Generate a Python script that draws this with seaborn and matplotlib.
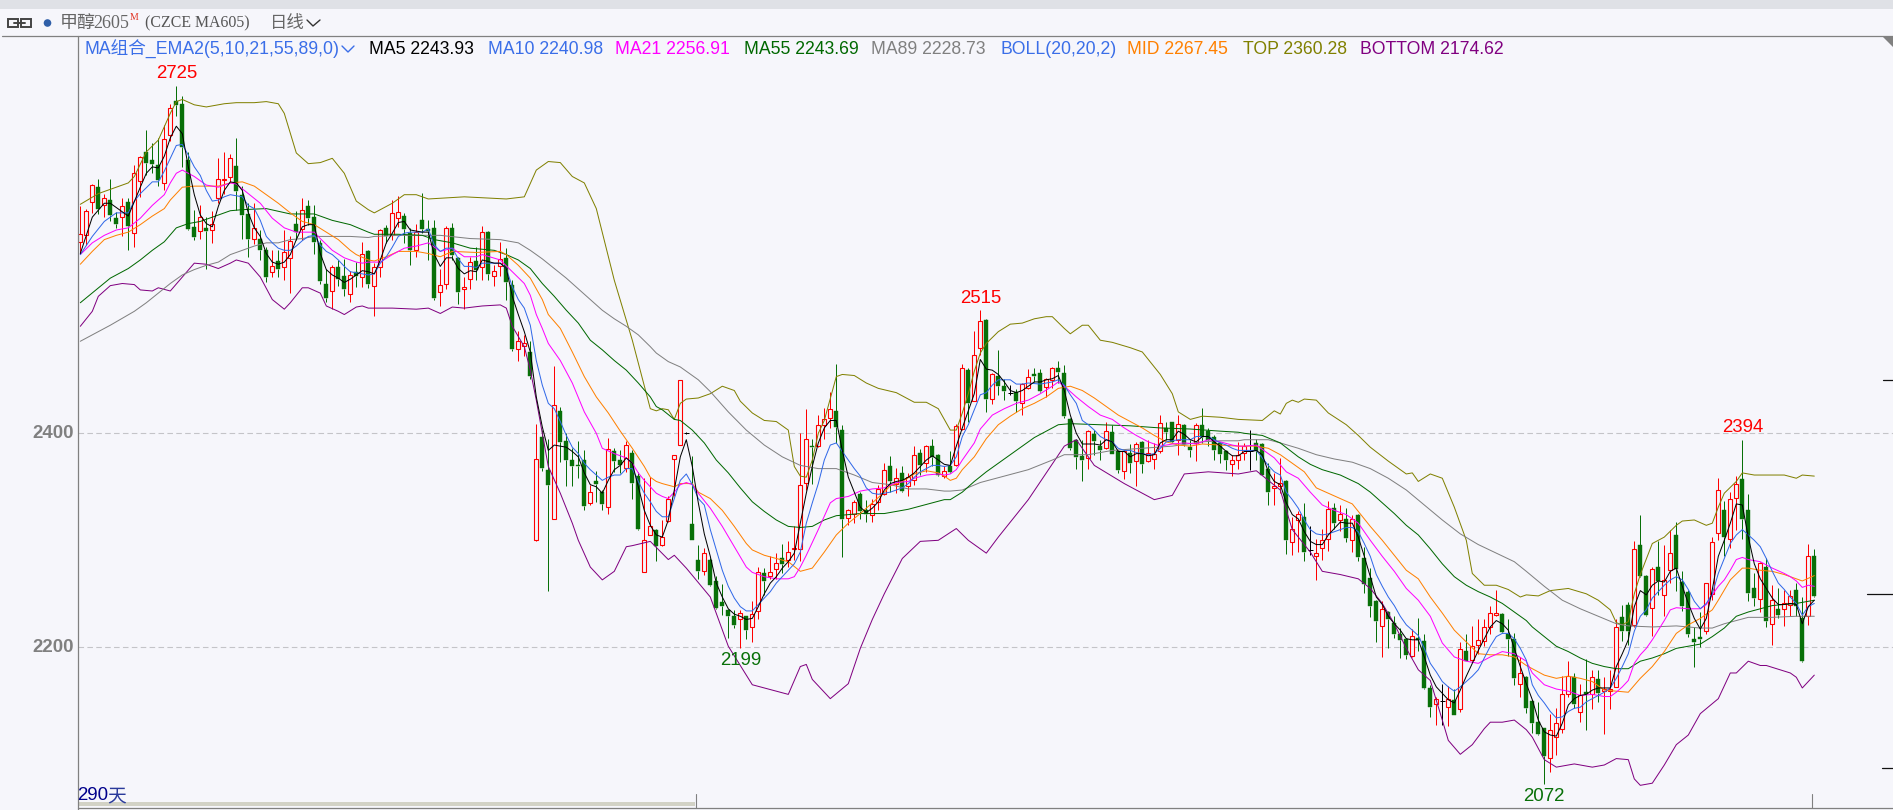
import matplotlib
matplotlib.use("Agg")
import matplotlib.pyplot as plt
from matplotlib.patches import Rectangle, Polygon, Circle
import seaborn as sns

opens = [
2579,2585,2616,2630,2613,2618,2601,2602,2616,2587,
2636,2663,2655,2651,2634,2679,2711,2708,2655,2593,
2589,2592,2590,2620,2637,2640,2650,2623,2605,2582,
2582,2571,2551,2561,2555,2564,2596,2591,2612,2602,
2578,2540,2533,2555,2547,2530,2551,2546,2570,2538,
2555,2592,2585,2601,2603,2587,2571,2599,2591,2592,
2532,2540,2592,2564,2535,2544,2561,2555,2588,2547,
2556,2564,2539,2479,2482,2476,2300,2397,2366,2320,
2421,2393,2375,2370,2375,2335,2355,2345,2331,2383,
2375,2368,2382,2360,2270,2305,2310,2296,2318,2376,
2389,2400,2315,2282,2271,2282,2262,2242,2235,2229,
2226,2229,2219,2234,2269,2267,2273,2283,2282,2292,
2292,2354,2388,2388,2408,2414,2421,2403,2321,2325,
2343,2328,2324,2336,2343,2369,2353,2363,2351,2356,
2382,2372,2388,2380,2360,2369,2370,2404,2459,2430,
2480,2506,2432,2454,2444,2438,2439,2428,2442,2455,
2456,2443,2450,2461,2456,2413,2394,2379,2377,2399,
2388,2386,2401,2383,2365,2382,2374,2392,2374,2376,
2383,2405,2411,2394,2408,2387,2391,2408,2402,2397,
2391,2383,2371,2375,2382,2383,2391,2390,2367,2349,
2351,2355,2298,2319,2322,2291,2285,2293,2301,2330,
2319,2320,2300,2324,2283,2265,2243,2220,2233,2223,
2212,2208,2192,2209,2206,2162,2147,2150,2144,2151,
2142,2197,2188,2202,2206,2219,2230,2231,2212,2208,
2166,2172,2150,2130,2125,2097,2116,2124,2156,2172,
2140,2158,2156,2170,2159,2159,2163,2228,2240,2221,
2296,2267,2237,2275,2249,2272,2305,2261,2252,2208,
2210,2215,2250,2307,2328,2301,2340,2357,2328,2255,
2245,2275,2222,2236,2236,2240,2254,2227,2229,2285]

highs = [
2612,2610,2633,2638,2624,2638,2607,2620,2620,2651,
2659,2683,2671,2676,2688,2708,2725,2715,2663,2609,
2613,2602,2608,2657,2663,2661,2676,2631,2615,2615,
2590,2574,2571,2571,2590,2584,2608,2620,2618,2613,
2581,2554,2557,2562,2563,2552,2560,2579,2571,2559,
2591,2595,2618,2622,2606,2592,2596,2625,2599,2599,
2554,2594,2597,2565,2546,2565,2574,2594,2589,2557,
2579,2573,2543,2496,2492,2486,2409,2403,2395,2463,
2425,2400,2386,2393,2384,2352,2365,2347,2396,2386,
2384,2393,2384,2364,2358,2359,2311,2319,2341,2380,
2450,2401,2379,2296,2293,2283,2267,2259,2236,2235,
2235,2229,2243,2275,2274,2285,2288,2297,2299,2313,
2400,2423,2395,2417,2424,2439,2465,2408,2329,2338,
2345,2338,2339,2352,2372,2379,2368,2369,2363,2388,
2385,2389,2395,2381,2369,2383,2409,2465,2461,2496,
2515,2507,2456,2478,2451,2445,2441,2447,2460,2461,
2460,2452,2462,2468,2464,2414,2395,2394,2403,2403,
2394,2411,2408,2384,2384,2390,2392,2393,2394,2391,
2417,2411,2411,2417,2409,2394,2410,2424,2405,2398,
2392,2384,2380,2392,2391,2403,2395,2391,2372,2363,
2377,2356,2322,2327,2335,2313,2301,2311,2337,2335,
2333,2330,2324,2325,2294,2274,2244,2243,2234,2229,
2218,2209,2217,2227,2212,2165,2154,2166,2164,2161,
2205,2212,2220,2226,2226,2239,2254,2232,2226,2213,
2191,2173,2151,2149,2125,2138,2143,2173,2187,2176,
2166,2189,2179,2179,2172,2179,2226,2240,2242,2299,
2324,2268,2275,2299,2296,2310,2317,2271,2254,2219,
2233,2260,2303,2358,2337,2345,2360,2394,2343,2269,
2280,2283,2258,2255,2254,2254,2260,2247,2297,2292]

lows = [
2568,2576,2606,2605,2602,2598,2592,2584,2571,2574,
2621,2641,2643,2631,2627,2673,2697,2649,2590,2581,
2582,2554,2578,2615,2624,2635,2609,2582,2565,2577,
2562,2541,2546,2546,2543,2531,2581,2581,2595,2568,
2540,2523,2516,2538,2528,2523,2537,2537,2536,2510,
2546,2578,2581,2593,2578,2557,2565,2587,2562,2525,
2519,2535,2562,2521,2516,2535,2543,2543,2543,2538,
2547,2525,2477,2468,2472,2451,2299,2365,2253,2320,
2373,2351,2351,2358,2328,2333,2336,2328,2325,2364,
2363,2364,2339,2310,2270,2305,2281,2295,2317,2341,
2389,2399,2300,2264,2268,2257,2236,2230,2209,2218,
2199,2208,2205,2226,2249,2264,2264,2269,2275,2282,
2281,2347,2353,2387,2395,2405,2391,2284,2314,2316,
2320,2317,2317,2328,2342,2345,2344,2345,2341,2352,
2361,2364,2369,2360,2358,2363,2369,2403,2411,2430,
2473,2420,2427,2436,2431,2436,2420,2417,2441,2448,
2439,2434,2442,2447,2414,2384,2367,2355,2367,2380,
2375,2385,2381,2363,2357,2363,2351,2363,2373,2367,
2382,2394,2391,2380,2388,2378,2374,2391,2388,2375,
2372,2366,2360,2367,2375,2366,2375,2361,2333,2333,
2344,2287,2286,2289,2281,2286,2263,2282,2290,2311,
2309,2298,2289,2281,2251,2228,2205,2191,2199,2209,
2190,2189,2191,2197,2161,2135,2127,2127,2126,2137,
2140,2187,2187,2194,2201,2212,2229,2213,2192,2165,
2154,2139,2120,2118,2072,2083,2099,2120,2154,2143,
2130,2123,2142,2149,2119,2142,2163,2206,2202,2219,
2266,2229,2211,2249,2229,2260,2253,2234,2210,2182,
2200,2212,2244,2300,2285,2293,2310,2301,2243,2239,
2233,2219,2202,2227,2220,2229,2229,2186,2221,2247]

closes = [
2586,2608,2632,2610,2620,2604,2596,2612,2594,2643,
2658,2653,2652,2637,2675,2704,2707,2668,2591,2583,
2602,2589,2596,2638,2638,2657,2626,2604,2582,2592,
2571,2546,2556,2554,2569,2580,2588,2609,2601,2579,
2542,2526,2555,2544,2535,2548,2547,2568,2540,2555,
2590,2584,2606,2607,2591,2571,2588,2591,2589,2526,
2539,2592,2567,2532,2537,2560,2553,2588,2549,2552,
2563,2541,2479,2486,2484,2454,2376,2368,2352,2426,
2392,2375,2369,2369,2332,2345,2353,2334,2385,2374,
2370,2389,2354,2311,2300,2313,2295,2303,2339,2380,
2450,2400,2300,2271,2288,2258,2237,2239,2229,2221,
2232,2216,2231,2270,2262,2270,2279,2278,2289,2293,
2352,2395,2387,2408,2413,2423,2406,2320,2328,2336,
2327,2325,2334,2348,2366,2355,2358,2346,2359,2380,
2370,2388,2378,2361,2365,2364,2407,2461,2428,2473,
2505,2432,2455,2444,2440,2438,2430,2446,2453,2454,
2440,2451,2461,2457,2416,2386,2378,2375,2402,2393,
2384,2402,2381,2366,2383,2372,2390,2371,2382,2381,
2410,2401,2392,2409,2390,2384,2408,2397,2394,2384,
2381,2375,2375,2380,2388,2383,2383,2361,2345,2351,
2354,2300,2311,2325,2289,2291,2288,2300,2329,2316,
2325,2302,2320,2284,2259,2239,2225,2236,2226,2212,
2207,2193,2211,2207,2162,2144,2152,2150,2152,2137,
2198,2187,2201,2207,2219,2232,2232,2214,2208,2171,
2176,2143,2129,2119,2098,2123,2129,2156,2173,2147,
2155,2156,2172,2157,2161,2161,2219,2215,2215,2292,
2267,2230,2273,2262,2263,2288,2273,2239,2212,2205,
2208,2260,2298,2347,2303,2339,2353,2320,2251,2246,
2279,2225,2244,2230,2241,2248,2239,2187,2285,2248]

ma5_idx = [0,2,4,5,7,8,10,11,12,13,14,15,16,17,18,19,20,21,22,23,24,25,26,27,28,29,30,31,32,33,34,35,36,37,38,39,40,41,42,43,44,45,46,47,
48,49,50,51,52,53,54,55,57,58,59,60,61,62,63,64,65,66,67,69,70,71,72,73,74,75,76,77,78,79,81,82,83,84,85,86,87,88,89,90,91,92,93,94,95,96,
97,98,99,100,101,102,103,104,105,106,107,108,109,110,111,112,113,114,115,116,117,118,119,120,121,122,123,124,125,126,127,128,129,130,131,132,133,134,135,136,137,138,139,140,141,142,143,144,
145,146,147,149,150,151,152,153,154,155,156,157,158,159,160,161,162,163,164,165,166,167,168,169,170,171,172,173,174,175,176,177,178,179,180,181,182,183,184,185,186,187,188,189,190,191,192,193,
194,195,196,197,198,199,200,201,202,203,204,205,206,207,208,209,210,211,212,213,214,215,216,217,218,219,220,221,222,223,224,225,226,227,228,229,230,231,232,233,234,235,236,237,238,239,240,241,
242,243,244,245,246,247,248,249,250,251,252,253,254,255,256,257,258,259,260,261,262,263,264,265,266,267,268,269,270,271,272,273,274,275,276,277,278,279,280,281,282,283,284,285,286,287,288,289]
ma5_val = [2568,2602,2615,2615,2607,2603,2630,2643,2649,2648,2659,2676,2687,2680,2649,2623,2604,2596,2593,2612,2627,2635,2634,2627,2606,2592,2584,2568,2560,2558,2560,2567,2581,2593,2595,2595,2568,2553,2548,2545,2541,2544,2548,2552,
2551,2549,2562,2578,2587,2597,2598,2590,2588,2588,2567,2556,2564,2564,2554,2549,2552,2551,2562,2559,2559,2554,2528,2511,2495,2476,2434,2406,2384,2389,2387,2383,2378,2363,2352,2350,2344,2356,2366,2370,2377,2372,2350,2328,2314,2305,
2303,2319,2347,2378,2394,2369,2335,2306,2285,2260,2247,2236,2231,2229,2226,2227,2238,2250,2260,2266,2274,2280,2288,2316,2344,2369,2391,2405,2412,2412,2384,2359,2345,2331,2326,2330,2336,2347,2353,2355,2356,2359,2363,2369,2375,2379,2375,2371,
2370,2388,2405,2437,2469,2460,2459,2455,2448,2440,2438,2440,2444,2448,2448,2450,2451,2454,2440,2417,2400,2390,2390,2390,2389,2394,2392,2383,2383,2378,2381,2381,2379,2380,2391,2394,2394,2402,2399,2394,2392,2397,2397,2392,2388,2383,2379,2379,
2383,2383,2384,2380,2364,2355,2352,2335,2324,2320,2308,2299,2296,2296,2305,2311,2317,2316,2316,2303,2285,2266,2247,2240,2229,2222,2216,2208,2207,2207,2191,2174,2163,2157,2151,2148,2160,2173,2185,2197,2208,2219,2225,2222,2216,2199,2182,2166,
2151,2132,2121,2118,2117,2129,2146,2152,2155,2156,2160,2162,2162,2162,2182,2194,2207,2238,2253,2249,2258,2262,2261,2271,2274,2257,2241,2227,2217,2227,2254,2285,2300,2316,2334,2333,2303,2278,2264,2255,2246,2240,2240,2241,2240,2222,2238,2244]

ma10_idx = [0,2,4,6,8,9,10,12,13,14,15,16,17,18,19,20,21,22,23,24,25,26,27,28,29,30,31,32,33,34,35,36,37,38,39,40,41,42,43,44,45,46,47,
48,49,50,51,52,53,54,55,57,58,59,60,61,62,63,64,65,66,67,70,71,72,73,74,75,76,77,78,79,80,81,82,83,84,85,86,87,88,89,90,91,92,93,94,95,96,
97,98,99,100,101,102,103,104,105,106,107,108,109,110,111,112,113,114,115,116,117,118,119,120,121,122,123,124,125,126,127,128,129,130,131,132,133,134,135,136,137,138,139,140,141,142,143,144,
145,146,147,148,149,150,151,152,153,154,155,156,157,158,160,162,163,164,165,166,167,168,169,170,171,172,173,174,175,176,177,178,179,180,181,183,185,186,187,188,189,190,191,192,193,
194,196,197,198,199,200,201,202,203,204,205,206,207,208,209,210,211,212,213,214,215,216,217,218,219,220,221,222,223,224,225,226,227,228,229,230,231,232,233,234,235,236,237,238,239,240,241,
242,243,244,245,246,247,248,249,250,251,252,253,254,255,256,257,258,259,260,261,262,263,264,265,266,267,268,269,270,271,272,273,274,275,276,277,278,279,280,281,282,283,284,285,286,287,288,289]
ma10_val = [2567,2584,2598,2606,2606,2617,2624,2635,2635,2645,2657,2669,2670,2660,2649,2641,2627,2617,2618,2621,2623,2622,2621,2613,2610,2599,2584,2578,2573,2571,2571,2575,2580,2584,2585,2576,2570,2567,2562,2556,2551,2550,2549,
2548,2549,2559,2565,2574,2584,2587,2588,2588,2591,2576,2570,2573,2573,2563,2556,2556,2555,2559,2559,2554,2537,2525,2517,2501,2468,2445,2428,2423,2411,2398,2387,2381,2372,2366,2361,2356,2359,2361,2361,2367,2367,2355,2344,2336,2327,
2322,2322,2339,2356,2362,2352,2339,2333,2310,2291,2272,2257,2246,2238,2234,2234,2240,2246,2252,2260,2266,2272,2278,2289,2316,2335,2353,2375,2389,2391,2383,2375,2367,2360,2349,2344,2343,2344,2345,2347,2349,2353,2359,2364,2367,2370,2370,2369,
2370,2378,2397,2408,2422,2436,2438,2445,2450,2450,2450,2446,2446,2447,2446,2448,2450,2445,2436,2428,2412,2408,2403,2397,2394,2392,2386,2384,2384,2382,2381,2380,2381,2386,2392,2394,2394,2397,2397,2397,2394,2391,2389,2386,2384,
2384,2384,2377,2370,2364,2361,2345,2338,2330,2319,2310,2306,2305,2306,2308,2310,2312,2312,2308,2297,2285,2268,2257,2247,2239,2229,2221,2216,2211,2199,2185,2177,2168,2163,2159,2163,2168,2173,2179,2190,2201,2210,2213,2213,2208,2199,2188,
2165,2155,2148,2140,2134,2135,2140,2143,2144,2149,2152,2155,2158,2162,2171,2182,2194,2215,2229,2235,2246,2252,2258,2263,2266,2263,2254,2243,2236,2241,2250,2269,2283,2297,2305,2310,2305,2300,2294,2283,2271,2260,2254,2247,2241,2230,2238,2241]

ma21_idx = [0,2,4,6,8,10,12,14,15,16,17,19,21,23,25,26,28,30,32,34,36,38,39,40,42,44,46,47,
48,50,52,54,56,58,60,62,64,66,67,70,72,74,75,76,77,78,80,82,84,86,87,89,91,92,93,94,96,
97,98,99,100,101,102,103,105,107,109,111,112,114,116,118,119,120,121,123,125,126,128,130,132,134,136,138,139,141,143,144,
145,146,147,149,150,152,154,156,158,160,162,163,164,166,168,170,172,174,176,178,180,182,184,186,188,190,192,193,
194,196,197,199,201,203,205,207,209,211,213,215,217,219,221,223,225,227,229,231,233,235,237,239,241,
242,244,246,248,250,252,254,255,256,257,258,259,260,261,262,263,264,265,266,268,270,271,272,273,274,275,276,277,278,280,282,284,285,286,287,288,289]
ma21_val = [2567,2578,2585,2590,2592,2601,2613,2623,2634,2643,2646,2640,2632,2630,2634,2633,2624,2615,2601,2592,2588,2588,2588,2582,2571,2564,2560,2559,
2560,2560,2567,2573,2575,2578,2570,2573,2565,2565,2567,2562,2551,2540,2529,2511,2498,2484,2468,2447,2420,2400,2386,2381,2377,2372,2363,2356,2344,
2341,2339,2345,2352,2354,2352,2344,2330,2313,2294,2275,2270,2266,2264,2264,2266,2275,2286,2310,2335,2339,2341,2346,2348,2349,2354,2355,2358,2361,2362,2361,
2362,2366,2375,2391,2404,2417,2423,2428,2431,2437,2444,2448,2444,2434,2425,2417,2413,2405,2398,2392,2388,2390,2391,2390,2394,2392,2389,2388,
2388,2389,2385,2377,2364,2358,2345,2333,2328,2324,2316,2300,2285,2271,2255,2244,2229,2204,2191,2187,2185,2191,2196,2194,2187,
2176,2165,2161,2159,2155,2156,2154,2154,2158,2163,2169,2185,2193,2199,2207,2216,2225,2235,2237,2236,2236,2240,2249,2257,2263,2272,2282,2284,2282,2280,2274,2269,2266,2262,2256,2258,2257]

ma55_idx = [0,5,8,10,12,14,16,18,20,23,25,27,31,35,39,42,45,48,
49,53,57,59,62,65,69,71,73,75,77,79,81,83,85,87,89,91,93,95,96,
97,99,100,102,104,106,108,110,112,114,116,118,120,122,124,126,130,134,138,142,144,
145,147,149,151,153,155,157,159,161,163,165,170,175,180,185,190,193,
194,197,200,203,205,207,210,213,215,217,219,221,223,225,227,229,231,233,235,237,239,241,
242,244,246,248,250,252,254,256,258,260,262,264,266,268,270,272,274,276,278,280,282,284,286,288,289]
ma55_val = [2522,2545,2554,2562,2571,2579,2592,2596,2598,2604,2608,2609,2610,2605,2605,2599,2595,2588,
2586,2586,2585,2581,2578,2573,2571,2567,2562,2554,2540,2528,2515,2503,2487,2478,2468,2459,2447,2434,2425,
2422,2413,2412,2403,2391,2375,2363,2349,2336,2327,2319,2313,2312,2313,2319,2323,2325,2325,2329,2335,2338,
2338,2345,2355,2364,2372,2380,2388,2396,2402,2408,2409,2408,2407,2405,2404,2402,2401,
2400,2398,2391,2378,2371,2366,2361,2353,2345,2335,2325,2314,2305,2292,2278,2266,2258,2252,2247,2241,2233,2225,
2219,2210,2201,2196,2190,2185,2182,2180,2180,2187,2190,2194,2199,2201,2203,2210,2218,2229,2233,2236,2239,2240,2241,2243,2244]

ma89_idx = [0,5,9,11,13,15,17,19,21,23,25,27,29,31,33,35,37,39,42,45,48,
49,53,60,65,70,73,75,77,79,81,83,85,87,89,91,93,95,96,98,100,103,105,108,111,114,117,120,123,126,129,132,135,138,141,144,
145,147,150,154,158,162,164,168,172,177,182,187,190,193,
194,198,200,203,206,209,212,215,218,221,224,227,230,233,236,239,241,
244,247,250,253,256,258,262,266,270,272,274,276,278,282,286,289]
ma89_val = [2486,2501,2514,2522,2531,2540,2548,2553,2557,2560,2567,2571,2575,2578,2578,2581,2582,2584,2584,2584,2583,
2584,2585,2585,2582,2581,2578,2571,2563,2554,2545,2535,2525,2515,2507,2500,2492,2481,2475,2467,2462,2450,2439,2420,2403,2389,2378,2370,2367,2367,2361,2354,2352,2348,2348,2346,
2346,2347,2354,2360,2366,2375,2380,2380,2384,2386,2388,2392,2393,2393,
2394,2394,2391,2386,2380,2376,2373,2367,2358,2347,2333,2319,2306,2296,2288,2280,2271,
2257,2244,2236,2229,2222,2220,2219,2220,2218,2218,2222,2225,2228,2228,2229,2229]

mid_idx = [0,2,4,6,8,10,12,14,15,17,19,23,25,27,29,31,33,35,37,39,41,43,45,46,48,
49,51,53,56,58,60,62,66,70,71,73,75,77,78,80,82,84,86,88,90,92,94,95,96,
97,99,100,102,103,105,107,109,111,112,114,116,118,120,122,124,126,128,130,132,134,135,137,139,141,143,144,
145,146,147,149,151,153,155,157,159,161,163,165,167,169,171,173,175,177,179,181,183,185,187,190,193,
194,196,198,200,202,204,206,208,210,212,213,215,217,219,221,223,225,227,229,231,233,235,237,239,241,
242,244,246,248,250,252,254,256,258,260,262,264,266,268,270,272,273,275,277,278,280,282,284,286,287,289]
mid_val = [2558,2570,2581,2585,2588,2595,2603,2610,2618,2630,2631,2631,2634,2635,2631,2623,2615,2606,2598,2595,2588,2581,2571,2567,2562,
2561,2565,2570,2570,2568,2565,2570,2569,2570,2567,2557,2545,2525,2511,2498,2476,2453,2434,2419,2402,2386,2369,2359,2355,
2353,2350,2353,2353,2345,2339,2328,2313,2297,2291,2286,2283,2280,2271,2274,2289,2305,2316,2325,2335,2345,2351,2355,2362,2365,2363,2360,
2356,2358,2366,2378,2395,2408,2416,2423,2428,2434,2442,2444,2440,2433,2425,2417,2411,2405,2398,2392,2389,2388,2390,2389,2388,
2388,2388,2386,2380,2372,2364,2349,2344,2339,2334,2327,2313,2300,2286,2272,2264,2247,2232,2216,2205,2194,2193,2193,2191,2183,
2180,2174,2171,2173,2171,2168,2160,2159,2158,2171,2182,2196,2213,2221,2227,2235,2244,2263,2274,2274,2272,2271,2268,2264,2262,2267]

top_idx = [0,3,6,8,9,11,13,15,16,17,19,21,24,26,29,31,33,34,36,38,40,42,44,46,48,
49,52,54,56,58,64,71,74,76,78,80,82,84,86,89,92,95,96,
97,98,99,100,101,103,105,107,109,110,112,114,116,118,119,120,121,122,123,124,126,127,129,131,133,136,139,141,143,145,
146,147,148,149,150,151,153,155,157,159,161,162,164,165,167,168,170,172,175,177,180,182,183,185,187,190,193,
197,199,200,201,202,203,204,206,208,211,213,215,218,219,221,222,223,225,227,229,231,232,234,236,238,240,
241,243,245,248,251,253,255,256,257,258,259,260,262,264,266,267,269,271,272,273,274,276,277,279,284,286,287,289]
top_val = [2614,2624,2630,2634,2640,2663,2674,2699,2710,2712,2707,2705,2708,2709,2709,2710,2708,2699,2662,2652,2653,2657,2643,2617,2609,
2606,2615,2623,2623,2619,2621,2619,2621,2646,2654,2653,2640,2634,2610,2543,2487,2423,2421,
2423,2422,2413,2428,2432,2433,2437,2444,2440,2430,2419,2412,2411,2403,2369,2360,2359,2375,2400,2412,2453,2455,2454,2447,2442,2438,2429,2429,2423,2403,
2403,2419,2437,2458,2475,2484,2495,2502,2503,2507,2509,2509,2498,2493,2501,2501,2487,2485,2480,2476,2455,2437,2420,2413,2416,2415,2413,
2412,2421,2418,2428,2431,2429,2432,2431,2419,2408,2398,2387,2374,2370,2362,2363,2355,2362,2358,2331,2300,2269,2258,2258,2254,2247,
2249,2248,2253,2255,2250,2244,2235,2223,2221,2224,2250,2268,2297,2303,2314,2318,2319,2314,2316,2331,2344,2355,2363,2361,2361,2358,2361,2360]

bottom_idx = [0,2,3,5,7,9,10,12,13,15,17,19,21,23,25,26,28,30,32,34,35,37,38,40,41,43,44,46,47,48,
50,52,56,58,60,62,64,67,70,71,72,74,75,76,77,78,80,82,83,85,87,89,91,92,95,98,99,101,105,108,112,118,120,121,122,125,128,130,132,134,137,140,143,146,148,151,153,158,164,166,169,174,179,182,184,188,193,196,
198,200,201,202,205,207,210,213,215,217,219,221,223,225,227,228,230,232,234,235,237,239,241,
242,244,246,249,252,254,256,258,259,260,262,264,266,268,270,273,275,276,278,280,281,285,286,287,289]
bottom_val = [2500,2514,2528,2538,2540,2539,2534,2533,2536,2533,2546,2559,2558,2554,2559,2562,2559,2546,2525,2516,2522,2536,2536,2531,2519,2514,2511,2518,2519,2517,
2517,2517,2516,2517,2512,2518,2517,2519,2520,2517,2500,2481,2459,2431,2400,2369,2344,2316,2300,2275,2263,2271,2294,2295,2299,2282,2286,2274,2247,2201,2165,2156,2182,2184,2170,2152,2166,2199,2226,2250,2283,2299,2300,2311,2300,2288,2303,2338,2388,2394,2370,2353,2338,2342,2362,2364,2362,2365,
2356,2347,2328,2310,2289,2271,2268,2264,2255,2241,2222,2199,2179,2169,2132,2113,2100,2109,2124,2130,2130,2132,2123,
2116,2095,2088,2091,2088,2090,2096,2095,2077,2071,2073,2090,2109,2118,2138,2152,2176,2176,2187,2183,2183,2176,2172,2162,2174]

grid_levels = [2400, 2200]
y_tick_labels = ["2400", "2200"]
right_ticks = [2450, 2250, 2087]
extreme_idx = [16, 150, 277, 110, 244]
extreme_val = [2725, 2515, 2394, 2199, 2072]

W, H = 1893, 810
BG = "#f6f6fb"
RED = "#ff0000"
GREEN = "#087008"

sns.set_theme(style="white", rc={"figure.facecolor": BG, "axes.facecolor": BG})
plt.rcParams["font.family"] = ["Liberation Sans", "Noto Sans CJK SC", "DejaVu Sans"]

fig = plt.figure(figsize=(W / 100, H / 100), dpi=100)

# pixel overlay for the window chrome
ui = fig.add_axes([0, 0, 1, 1], zorder=5)
ui.set_xlim(0, W)
ui.set_ylim(H, 0)
ui.axis("off")
ui.patch.set_alpha(0)

# price pane: one bar every 6 px, 107 px per 100 price units
left, right, top, bottom = 77.5, 1893.0, 36.5, 808.0
ax = fig.add_axes([left / W, 1 - bottom / H, (right - left) / W, (bottom - top) / H], zorder=1)
ax.set_xlim((left - 80.3) / 6.0, (right - 80.3) / 6.0)
ax.set_ylim(2400 - (bottom - 433.3) / 1.07, 2400 - (top - 433.3) / 1.07)
ax.set_xticks([])
ax.set_yticks([])
for s in ("top", "right", "bottom", "left"):
    ax.spines[s].set_visible(False)

for lv in grid_levels:
    ax.axhline(lv, color="#c4c4c8", lw=0.8, dashes=(5, 3), zorder=1)

PX = 0.72
for i, (o, h, l, c) in enumerate(zip(opens, highs, lows, closes)):
    col = RED if c > o else (GREEN if c < o else "black")
    lo, hi = min(o, c), max(o, c)
    ax.vlines(i, hi, h, color=col, lw=PX, zorder=2)
    ax.vlines(i, l, lo, color=col, lw=PX, zorder=2)
    if c == o:
        ax.hlines(o, i - 0.38, i + 0.38, color="black", lw=PX, zorder=3)
    elif c > o:
        ax.bar(i, hi - lo, bottom=lo, width=0.68, facecolor=BG, edgecolor=RED, linewidth=PX * 1.1, zorder=3)
    else:
        ax.bar(i, hi - lo, bottom=lo, width=0.72, facecolor=GREEN, edgecolor=GREEN, linewidth=0.3, zorder=3)

series = [
    (top_idx, top_val, "#808000"),
    (bottom_idx, bottom_val, "#800080"),
    (ma89_idx, ma89_val, "#808080"),
    (ma55_idx, ma55_val, "#006800"),
    (mid_idx, mid_val, "#ff8000"),
    (ma21_idx, ma21_val, "#ff00ff"),
    (ma10_idx, ma10_val, "#3068e8"),
    (ma5_idx, ma5_val, "#000000"),
]
for n, (xs, ys, col) in enumerate(series):
    sns.lineplot(x=xs, y=ys, ax=ax, color=col, linewidth=0.72, estimator=None,
                 sort=False, legend=False, zorder=4 + n * 0.1)

for n, (i, v) in enumerate(zip(extreme_idx, extreme_val)):
    up = n < 3
    ax.annotate(str(v), xy=(i, v), xytext=(0, 8.6 if up else -8.6), textcoords="offset points",
                ha="center", va="center", fontsize=13.4, color=RED if up else "#087008", zorder=6)

# window chrome
ui.add_patch(Rectangle((0, 0), W, 8.7, facecolor="#dfe1e6", edgecolor="none"))
ui.plot([2, W], [36.3, 36.3], color="#808080", lw=0.9)
ui.plot([77.5, 77.5], [36.3, H], color="#808080", lw=0.9)
ui.plot([77.5, W], [808.3, 808.3], color="#808080", lw=0.9)
ui.add_patch(Polygon([(1882, 36), (W, 36), (W, 47)], closed=True, facecolor="#808080", edgecolor="none"))
ui.add_patch(Rectangle((77.5, 801.7), 617.5, 4.3, facecolor="#d2d2c6", edgecolor="none"))
ui.plot([695.5, 695.5], [794, 808], color="#808080", lw=0.8)
ui.plot([1811.5, 1811.5], [794, 808], color="#808080", lw=0.8)

# right-hand tick dashes, positioned by price
for tick, x0 in zip(right_ticks, (1883, 1867, 1882)):
    ypx = 433.3 - (tick - 2400) * 1.07
    ui.plot([x0, W], [ypx, ypx], color="#111111", lw=0.9)

# y labels
for lv, lab in zip(grid_levels, y_tick_labels):
    ypx = 433.3 - (lv - 2400) * 1.07
    ui.text(74, ypx, lab, ha="right", va="center", fontsize=13.4, fontweight="bold", color="#808080")

# title row
ui.add_patch(Rectangle((8, 19), 10, 8, facecolor="none", edgecolor="#444444", lw=1.4))
ui.add_patch(Rectangle((21, 19), 10, 8, facecolor="none", edgecolor="#444444", lw=1.4))
ui.plot([14, 25], [23, 23], color="#444444", lw=1.4)
ui.add_patch(Circle((47.5, 23), 3.8, facecolor="#2f5fa8", edgecolor="none"))
ui.text(60, 23, "甲醇", ha="left", va="center", fontsize=13, color="#666666", family=["Noto Sans CJK SC", "DejaVu Sans"])
ui.text(93, 23, "2605", ha="left", va="center", fontsize=13, color="#666666", family="Liberation Serif")
ui.text(130, 18, "M", ha="left", va="center", fontsize=7, color="#e03020", family="Liberation Serif")
ui.text(145, 23, "(CZCE MA605)", ha="left", va="center", fontsize=11.4, color="#555555", family="Liberation Serif")
ui.text(270, 23, "日线", ha="left", va="center", fontsize=12.5, color="#666666", family=["Noto Sans CJK SC", "DejaVu Sans"])
ui.plot([307, 313, 320], [20, 26, 20], color="#333333", lw=1.0)

# indicator legend row
legend_items = [
    (85, "MA组合_EMA2(5,10,21,55,89,0)", "#3a6ee8"),
    (369, "MA5 2243.93", "#000000"),
    (488, "MA10 2240.98", "#3a6ee8"),
    (615, "MA21 2256.91", "#ff00ff"),
    (744, "MA55 2243.69", "#006800"),
    (871, "MA89 2228.73", "#808080"),
    (1000, "BOLL(20,20,2)", "#3a6ee8"),
    (1127, "MID 2267.45", "#ff8000"),
    (1243, "TOP 2360.28", "#808000"),
    (1360, "BOTTOM 2174.62", "#800080"),
]
for x0, txt, col in legend_items:
    ui.text(x0, 49.5, txt, ha="left", va="center", fontsize=12.7, color=col)
ui.plot([342, 348, 354], [46, 52, 46], color="#3a6ee8", lw=1.0)

ui.text(77.5, 795.5, "290", ha="left", va="center", fontsize=13.4, color="#00008b")
ui.text(107.5, 795.5, "天", ha="left", va="center", fontsize=13.5, color="#2a3a9b", family=["Noto Sans CJK SC", "DejaVu Sans"])

fig.savefig("out.png", dpi=100, facecolor=BG)
